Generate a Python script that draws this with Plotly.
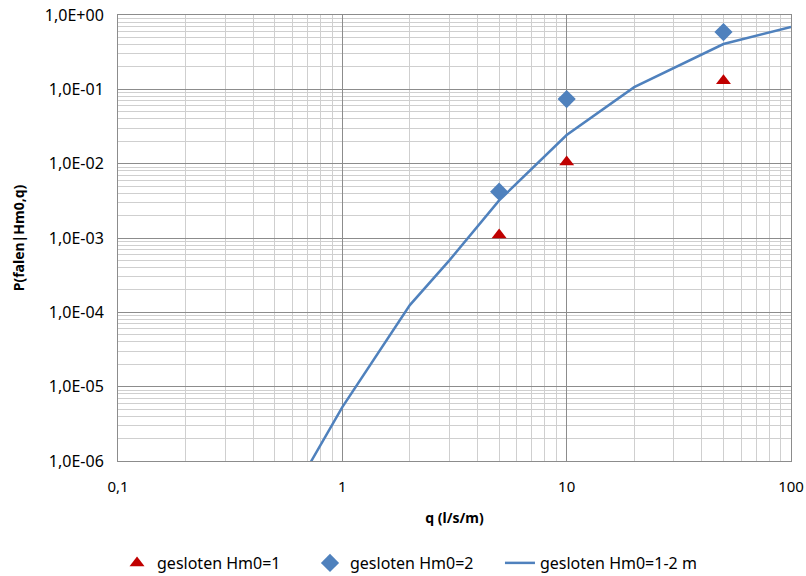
import plotly.graph_objects as go

# Data
q_pts = [5, 10, 50]
p_hm1 = [1.1e-3, 1.05e-2, 0.13]
p_hm2 = [4.2e-3, 0.074, 0.59]

q_line = [0.5, 1, 2, 3, 5, 10, 20, 50, 100]
p_line = [1.4e-7, 5.3e-6, 1.25e-4, 5.0e-4, 3.2e-3, 0.0243, 0.107, 0.407, 0.69]

x_tickvals = [0.1, 1, 10, 100]
x_ticktext = ["0,1", "1", "10", "100"]
y_tickvals = [1e-6, 1e-5, 1e-4, 1e-3, 1e-2, 1e-1, 1]
y_ticktext = ["1,0E-06", "1,0E-05", "1,0E-04", "1,0E-03", "1,0E-02", "1,0E-01", "1,0E+00"]

x_minor = [m * 10.0 ** e for e in range(-1, 2) for m in range(2, 10)]
y_minor = [m * 10.0 ** e for e in range(-6, 0) for m in range(2, 10)]

FONT = "Noto Sans"
BLUE = "#4F81BD"
RED = "#C00000"

fig = go.Figure()
fig.add_trace(go.Scatter(
    x=q_pts, y=p_hm1, mode="markers", name="gesloten Hm0=1", legend="legend",
    marker=dict(symbol="triangle-up", size=13, color=RED)))
fig.add_trace(go.Scatter(
    x=q_pts, y=p_hm2, mode="markers", name="gesloten Hm0=2", legend="legend2",
    marker=dict(symbol="diamond", size=14, color=BLUE)))
fig.add_trace(go.Scatter(
    x=q_line, y=p_line, mode="lines", name="gesloten Hm0=1-2 m", legend="legend3",
    line=dict(color=BLUE, width=2.5)))

leg_common = dict(orientation="h", xanchor="left", xref="container",
                  yref="container", y=0.0226, yanchor="middle",
                  font=dict(family=FONT, size=16), bgcolor="rgba(0,0,0,0)")

fig.update_layout(
    width=806, height=576,
    margin=dict(l=118, r=15, t=15, b=115, autoexpand=False),
    paper_bgcolor="white", plot_bgcolor="white",
    font=dict(family=FONT, size=15, color="#000000"),
    showlegend=True,
    legend=dict(x=0.1452, **leg_common),
    legend2=dict(x=0.3846, **leg_common),
    legend3=dict(x=0.6203, **leg_common),
)
fig.update_xaxes(
    type="log", range=[-1, 2], automargin=False,
    tickvals=x_tickvals, ticktext=x_ticktext,
    tickfont=dict(family=FONT, size=15), ticklabeloverflow="allow",
    showgrid=True, gridcolor="#8C8C8C", gridwidth=1,
    minor=dict(tickvals=x_minor, showgrid=True, gridcolor="#CFCFCF", gridwidth=1),
    showline=True, linecolor="#8C8C8C", linewidth=1, mirror=True,
    ticks="", ticklabelstandoff=12, zeroline=False,
    title=dict(text="<b>q (l/s/m)</b>", font=dict(family=FONT, size=14), standoff=18),
)
fig.update_yaxes(
    type="log", range=[-6, 0], automargin=False,
    tickvals=y_tickvals, ticktext=y_ticktext,
    tickfont=dict(family=FONT, size=16), ticklabeloverflow="allow",
    showgrid=True, gridcolor="#8C8C8C", gridwidth=1,
    minor=dict(tickvals=y_minor, showgrid=True, gridcolor="#CFCFCF", gridwidth=1),
    showline=True, linecolor="#8C8C8C", linewidth=1, mirror=True,
    ticks="", ticklabelstandoff=10, zeroline=False,
    title=dict(text="<b>P(falen|Hm0,q)</b>", font=dict(family=FONT, size=14), standoff=16),
)

fig.write_html("out.html", config={"displayModeBar": False},
               post_script="document.body.style.margin='0px';")
